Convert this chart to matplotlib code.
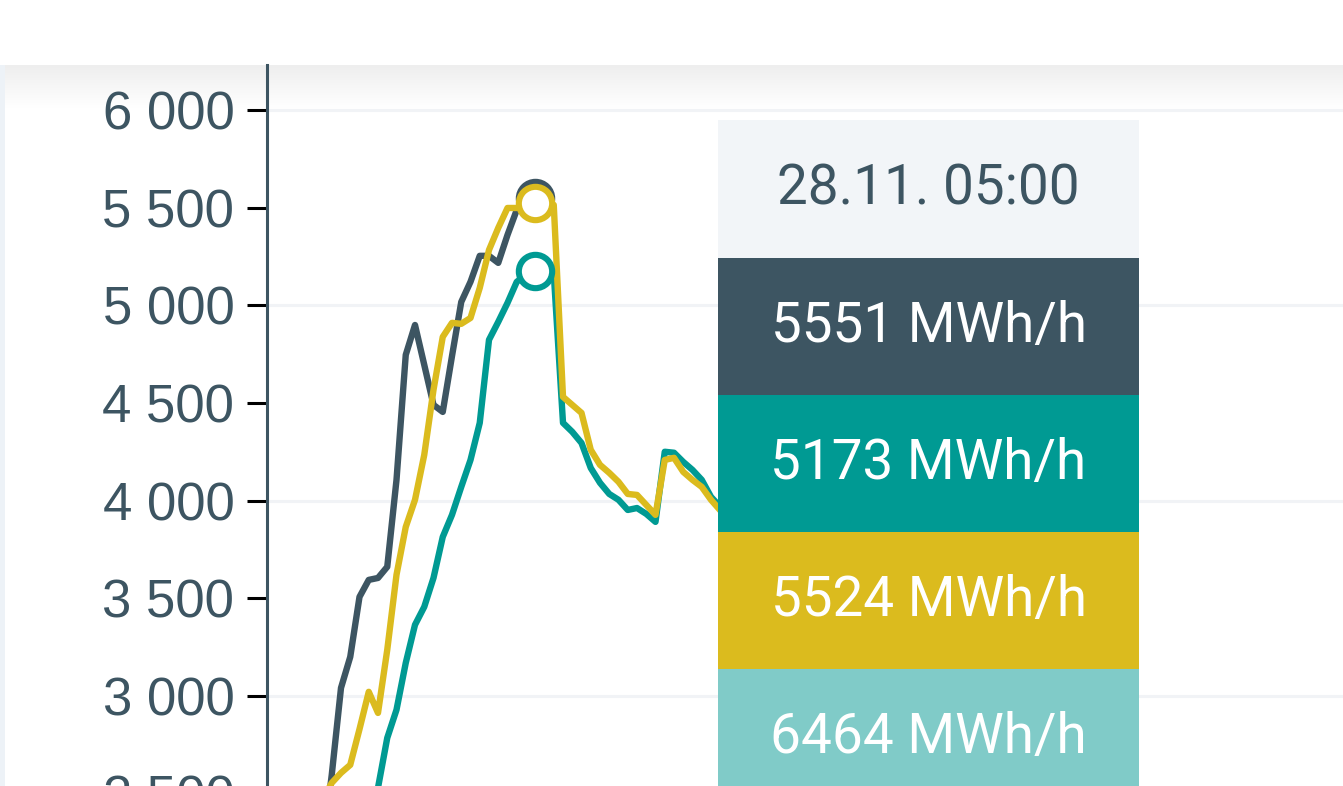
import matplotlib.pyplot as plt
import numpy as np
from matplotlib.colors import LinearSegmentedColormap
from matplotlib.patches import Rectangle
from matplotlib.ticker import FuncFormatter, MultipleLocator

plt.rcParams['font.family'] = ['Roboto', 'DejaVu Sans']

# time slots (index), slot 29 is the hovered one: 28.11. 05:00
dark_x = list(range(6, 30))
dark_vals = [2212, 2596, 3041, 3200, 3507, 3594, 3604, 3661, 4106, 4746,
             4899, 4695, 4490, 4454, 4740, 5017, 5120, 5253, 5253, 5217,
             5360, 5488, 5524, 5551]

teal_x = list(range(11, 56))
teal_vals = [2314, 2530, 2785, 2929, 3169, 3364, 3456, 3604, 3814, 3927,
             4070, 4208, 4398, 4823, 4915, 5012, 5120, 5155, 5173, 5180,
             5165, 4398, 4352, 4295, 4167, 4091, 4034, 4004, 3952, 3962,
             3932, 3891, 4250, 4245, 4198, 4157, 4106, 4019, 3968, 3920,
             3895, 3870, 3885, 3840, 3805]

yellow_x = list(range(6, 56))
yellow_vals = [2468, 2555, 2606, 2647, 2830, 3021, 2913, 3236, 3620, 3865,
               4004, 4234, 4567, 4838, 4910, 4905, 4935, 5089, 5283, 5396,
               5498, 5498, 5514, 5524, 5540, 5514, 4531, 4490, 4449, 4260,
               4183, 4142, 4096, 4034, 4029, 3978, 3927, 4208, 4219, 4147,
               4106, 4070, 4004, 3950, 3900, 3880, 3850, 3870, 3820, 3790]

# fourth series sits above the visible range
light_x = list(range(22, 37))
light_vals = [6380, 6410, 6420, 6440, 6430, 6450, 6470, 6464, 6470, 6455,
              6440, 6430, 6420, 6400, 6390]

hover_idx = 29
tooltip_time = "28.11. 05:00"
tooltip_vals = [5551, 5173, 5524, 6464]
grid_levels = [3000, 4000, 5000, 6000]

DARK = '#3d5562'
TEAL = '#009a93'
YELLOW = '#dbbb1e'
LIGHT = '#80cbc8'

W, H = 1343, 786


def fx(px):
    return px / W


def fy(py):
    return 1 - py / H


fig = plt.figure(figsize=(W / 100, H / 100), dpi=100)
fig.patch.set_facecolor('white')

# page background: shadow under the header bar and the left card edge
gax = fig.add_axes([0, fy(108), 1, 43 / H])
gax.set_zorder(0)
cmap = LinearSegmentedColormap.from_list('shade', ['#eeeeee', '#ffffff'])
gax.imshow(np.linspace(0, 1, 64)[:, None], cmap=cmap, aspect='auto')
gax.axis('off')
fig.add_artist(Rectangle((0, 0), fx(5), fy(65), transform=fig.transFigure,
                         facecolor='#edf2f7', edgecolor='none', zorder=1))

# main plot (cropped view: bottom part falls outside the figure)
px_per_unit = 586 / 3000
y_lo, y_hi = 2000, 6230
ax_h = (y_hi - y_lo) * px_per_unit
ax = fig.add_axes([fx(267), (H - (65 + ax_h)) / H, fx(W - 267), ax_h / H])
ax.set_zorder(2)
ax.patch.set_alpha(0)

step = 9.25
ax.set_xlim(0, (W - 267) / step)
ax.set_ylim(y_lo, y_hi)

for v in grid_levels:
    ax.axhline(v, color='#f1f3f6', lw=2.2, zorder=0)

lw = 4.6
ax.plot(dark_x, dark_vals, color=DARK, lw=lw, solid_joinstyle='round', zorder=2)
ax.plot(teal_x, teal_vals, color=TEAL, lw=lw, solid_joinstyle='round', zorder=3)
ax.plot(yellow_x, yellow_vals, color=YELLOW, lw=lw, solid_joinstyle='round', zorder=4)
ax.plot(light_x, light_vals, color=LIGHT, lw=lw, solid_joinstyle='round', zorder=1)

# hover markers
mk = dict(marker='o', ms=24, mfc='white', mew=4.4, ls='none')
ax.plot(hover_idx, tooltip_vals[0], mec=DARK, zorder=5, **mk)
ax.plot(hover_idx, tooltip_vals[2], mec=YELLOW, zorder=6, **mk)
ax.plot(hover_idx, tooltip_vals[1], mec=TEAL, zorder=6, **mk)

for s in ['top', 'right', 'bottom']:
    ax.spines[s].set_visible(False)
ax.spines['left'].set_color(DARK)
ax.spines['left'].set_linewidth(2.2)

ax.set_xticks([])
ax.yaxis.set_major_locator(MultipleLocator(500))
ax.yaxis.set_major_formatter(FuncFormatter(lambda v, p: f"{v:,.0f}".replace(",", " ")))
ax.tick_params(axis='y', length=14.5, width=2.2, color='black', pad=9,
               labelsize=38, labelcolor=DARK, labelfontfamily='Liberation Sans')

# tooltip
tip_left, tip_right = 718, 1139
row_edges = [120, 258, 395, 532, 669, 806]
row_colors = ['#f2f5f8', DARK, TEAL, YELLOW, LIGHT]
row_texts = [tooltip_time] + [f"{v} MWh/h" for v in tooltip_vals]
text_colors = [DARK, 'white', 'white', 'white', 'white']
for i in range(5):
    top, bot = row_edges[i], row_edges[i + 1]
    fig.add_artist(Rectangle((fx(tip_left), fy(bot)), fx(tip_right - tip_left),
                             (bot - top) / H, transform=fig.transFigure,
                             facecolor=row_colors[i], edgecolor='none', zorder=10))
    fig.text(fx((tip_left + tip_right) / 2), fy((top + bot) / 2), row_texts[i],
             ha='center', va='center', fontsize=39.5, color=text_colors[i], zorder=11)

fig.savefig('out.png', dpi=100, facecolor='white')
